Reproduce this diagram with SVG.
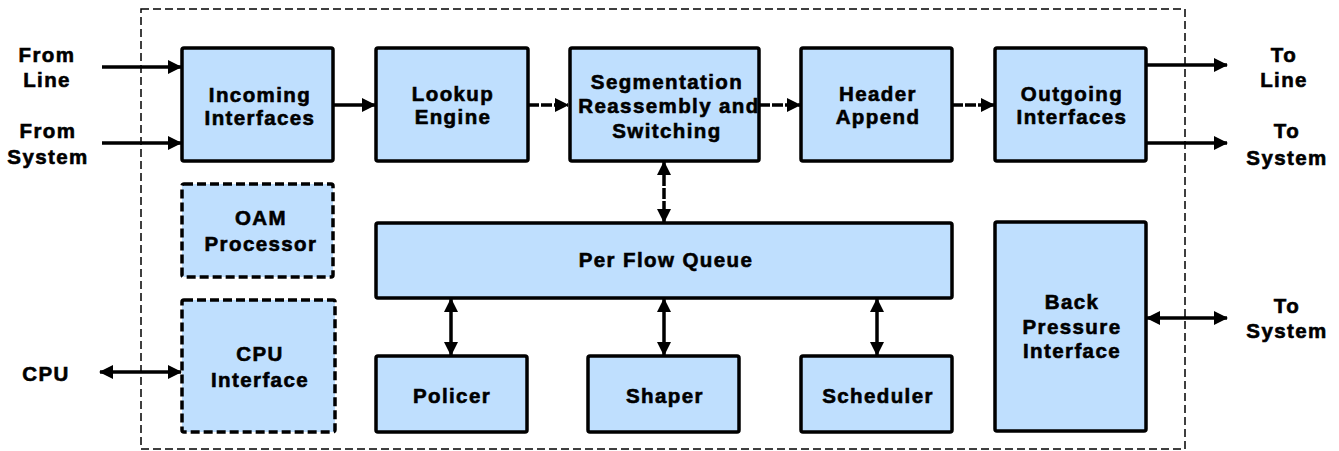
<svg xmlns="http://www.w3.org/2000/svg" width="1339" height="451" viewBox="0 0 1339 451">
<defs>
<marker id="ah" markerUnits="userSpaceOnUse" markerWidth="14" markerHeight="14" refX="13" refY="7" orient="auto-start-reverse" viewBox="0 0 14 14">
<path d="M0,0 L14,7 L0,14 z" fill="#000"/>
</marker>
</defs>
<style>
.box{fill:#BFDFFE;stroke:#000;stroke-width:3.5}
.fill{fill:#BFDFFE;stroke:none}
.edge{fill:none;stroke:#000;stroke-width:3.5}
.dbox{fill:#BFDFFE;stroke:#000;stroke-width:3.5;stroke-dasharray:9 4}
.t{font-family:"Liberation Sans",Arial,sans-serif;font-weight:bold;font-size:20.5px;letter-spacing:1.4px;text-anchor:middle;fill:#000;stroke:#000;stroke-width:0.6}
.c{stroke:#000;stroke-width:3.5;fill:none}
.cd{stroke:#000;stroke-width:3.5;fill:none;stroke-dasharray:11 2}
</style>
<rect x="141" y="9" width="1044" height="440" fill="none" stroke="#000" stroke-width="1.5" stroke-dasharray="8 4"/>

<g id="connectors">
<line class="c" x1="102" y1="67" x2="181" y2="67" marker-end="url(#ah)"/>
<line class="c" x1="102" y1="143" x2="181" y2="143" marker-end="url(#ah)"/>
<line class="c" x1="100" y1="372" x2="181" y2="372" marker-start="url(#ah)" marker-end="url(#ah)"/>
<line class="c" x1="333" y1="105" x2="375" y2="105" marker-end="url(#ah)"/>
<line class="cd" x1="528" y1="105" x2="568" y2="105" marker-end="url(#ah)"/>
<line class="cd" x1="759" y1="105" x2="800" y2="105" marker-end="url(#ah)"/>
<line class="cd" x1="952" y1="105" x2="994" y2="105" marker-end="url(#ah)"/>
<line class="c" x1="1146" y1="65" x2="1227" y2="65" marker-end="url(#ah)"/>
<line class="c" x1="1146" y1="143" x2="1227" y2="143" marker-end="url(#ah)"/>
<line class="c" x1="1147" y1="318" x2="1227" y2="318" marker-start="url(#ah)" marker-end="url(#ah)"/>
<line class="cd" x1="664" y1="162" x2="664" y2="222" marker-start="url(#ah)" marker-end="url(#ah)"/>
<line class="c" x1="451" y1="299" x2="451" y2="355" marker-start="url(#ah)" marker-end="url(#ah)"/>
<line class="c" x1="664" y1="299" x2="664" y2="355" marker-start="url(#ah)" marker-end="url(#ah)"/>
<line class="c" x1="877" y1="299" x2="877" y2="355" marker-start="url(#ah)" marker-end="url(#ah)"/>
</g>

<g id="labels">
<text class="t" x="47" y="62">From</text>
<text class="t" x="47" y="87">Line</text>
<text class="t" x="48" y="138">From</text>
<text class="t" x="48" y="164">System</text>
<text class="t" x="46" y="381">CPU</text>
<text class="t" x="1284" y="62">To</text>
<text class="t" x="1284" y="87">Line</text>
<text class="t" x="1287" y="138">To</text>
<text class="t" x="1287" y="165">System</text>
<text class="t" x="1287" y="313">To</text>
<text class="t" x="1287" y="338">System</text>
</g>

<g id="incoming">
<rect class="box" x="182" y="48" width="151" height="113" rx="2"/>
<text class="t" x="260" y="102">Incoming</text>
<text class="t" x="260" y="125">Interfaces</text>
</g>
<g id="lookup">
<rect class="box" x="376" y="48" width="152" height="113" rx="2"/>
<text class="t" x="453" y="101">Lookup</text>
<text class="t" x="453" y="124">Engine</text>
</g>
<g id="segmentation">
<rect class="fill" x="570" y="48" width="189" height="113" rx="2"/>
<text class="t" x="667" y="89">Segmentation</text>
<text class="t" x="669" y="113">Reassembly and</text>
<text class="t" x="667" y="138">Switching</text>
<rect class="edge" x="570" y="48" width="189" height="113" rx="2"/>
</g>
<g id="header">
<rect class="box" x="801" y="48" width="151" height="113" rx="2"/>
<text class="t" x="878" y="101">Header</text>
<text class="t" x="878" y="124">Append</text>
</g>
<g id="outgoing">
<rect class="box" x="995" y="48" width="151" height="113" rx="2"/>
<text class="t" x="1072" y="101">Outgoing</text>
<text class="t" x="1072" y="124">Interfaces</text>
</g>
<g id="oam">
<rect class="dbox" x="182" y="184" width="151" height="93" rx="2"/>
<text class="t" x="261" y="225">OAM</text>
<text class="t" x="261" y="251">Processor</text>
</g>
<g id="cpuif">
<rect class="dbox" x="182" y="300" width="153" height="132" rx="2"/>
<text class="t" x="260" y="361">CPU</text>
<text class="t" x="260" y="387">Interface</text>
</g>
<g id="pfq">
<rect class="box" x="376" y="223" width="576" height="75" rx="2"/>
<text class="t" x="666" y="267">Per Flow Queue</text>
</g>
<g id="policer">
<rect class="box" x="376" y="356" width="151" height="76" rx="2"/>
<text class="t" x="452" y="403">Policer</text>
</g>
<g id="shaper">
<rect class="box" x="588" y="356" width="151" height="76" rx="2"/>
<text class="t" x="665" y="403">Shaper</text>
</g>
<g id="scheduler">
<rect class="box" x="801" y="356" width="151" height="76" rx="2"/>
<text class="t" x="878" y="403">Scheduler</text>
</g>
<g id="backpressure">
<rect class="box" x="995" y="222" width="151" height="209" rx="2"/>
<text class="t" x="1072" y="309">Back</text>
<text class="t" x="1072" y="334">Pressure</text>
<text class="t" x="1072" y="358">Interface</text>
</g>
</svg>
